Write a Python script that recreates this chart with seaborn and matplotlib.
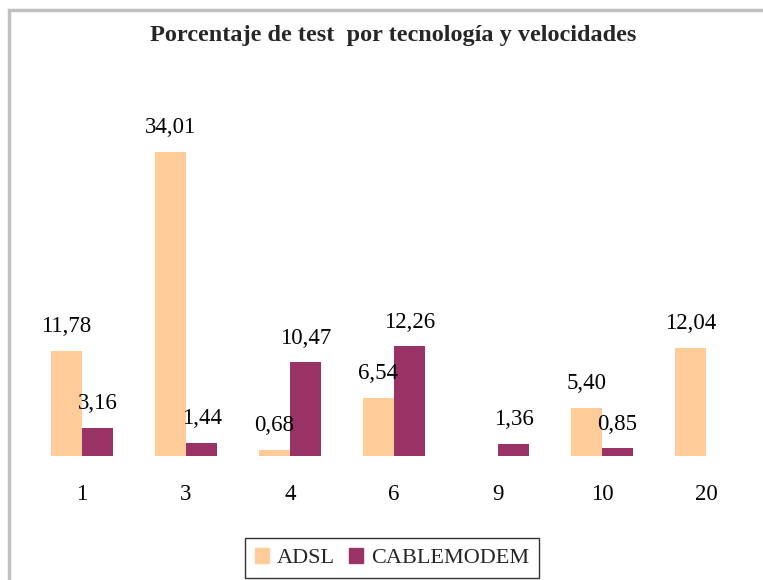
import numpy as np
import pandas as pd
import seaborn as sns
import matplotlib.pyplot as plt
from matplotlib.patches import Rectangle

# datos
velocidades = ['1', '3', '4', '6', '9', '10', '20']
adsl = [11.78, 34.01, 0.68, 6.54, np.nan, 5.40, 12.04]
cablemodem = [3.16, 1.44, 10.47, 12.26, 1.36, 0.85, np.nan]
tecnologias = ['ADSL', 'CABLEMODEM']
colores = ['#FFCC99', '#993366']

df = pd.DataFrame({
    'Velocidad': velocidades * 2,
    'Tecnologia': [tecnologias[0]] * len(velocidades) + [tecnologias[1]] * len(velocidades),
    'Porcentaje': adsl + cablemodem,
})

sns.set_theme(style='white')
plt.rcParams['font.family'] = ['Liberation Serif', 'DejaVu Serif']

fig = plt.figure(figsize=(7.63, 5.80), dpi=100)
ax = fig.add_axes([30 / 763, 124 / 580, 728 / 763, 357.6 / 580])

sns.barplot(data=df, x='Velocidad', y='Porcentaje', hue='Tecnologia',
            order=velocidades, hue_order=tecnologias, palette=colores,
            width=0.6, saturation=1, linewidth=0, ax=ax, legend=True)

# etiquetas de valores con coma decimal
for cont in ax.containers:
    for bar in cont:
        h = bar.get_height()
        if np.isnan(h) or h == 0:
            continue
        ax.annotate(f'{h:.2f}'.replace('.', ','),
                    (bar.get_x() + bar.get_width() / 2, h),
                    xytext=(0, 10), textcoords='offset points',
                    ha='center', va='bottom', fontsize=16.5, color='black')

ax.set_xlim(-0.5, 6.5)
ax.set_ylim(0, 40)
ax.set_xlabel('')
ax.set_ylabel('')
ax.set_yticks([])
ax.tick_params(axis='x', length=0, pad=20, labelsize=16.5, colors='black')
for s in ax.spines.values():
    s.set_visible(False)

ax.get_legend().remove()
handles = [Rectangle((0, 0), 1, 1, color=c) for c in colores]
leg = fig.legend(handles, tecnologias, loc='upper center',
                 bbox_to_anchor=(392 / 763, 1 - 538 / 580), ncol=2,
                 fontsize=16, frameon=True, fancybox=False,
                 handlelength=0.65, handleheight=0.65, handletextpad=0.35,
                 columnspacing=0.6, borderpad=0.45, borderaxespad=0)
leg.get_frame().set_edgecolor('black')
leg.get_frame().set_linewidth(1.0)

fig.text(393 / 763, 1 - 35 / 580,
         'Porcentaje de test  por tecnología y velocidades',
         ha='center', va='center', fontsize=17.5, fontweight='bold')

# marco gris del gráfico (recortado a la derecha y abajo)
fig.patches.append(Rectangle((9 / 763, -0.05), 1.0, 1 - 10 / 580 + 0.05,
                             transform=fig.transFigure, fill=False,
                             edgecolor='#C0C0C0', linewidth=2.5))

plt.savefig('out.png', dpi=100)
plt.close()
